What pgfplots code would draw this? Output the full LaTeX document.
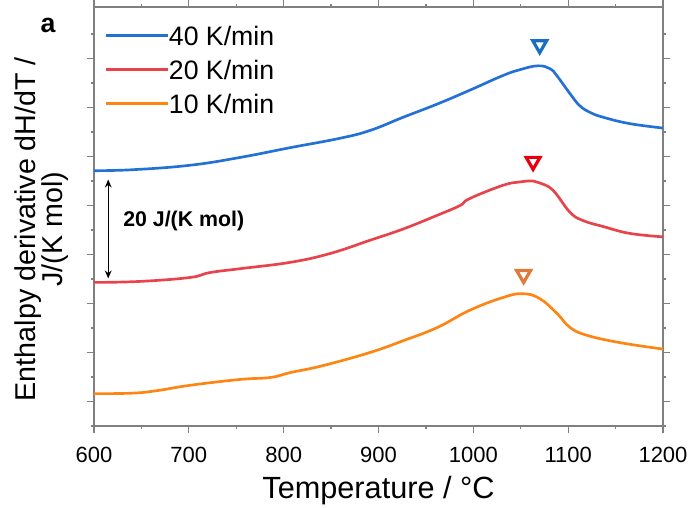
\documentclass[border=0pt]{standalone}
\usepackage{fontspec}
\setmainfont{Liberation Sans}
\usepackage{pgfplots}
\pgfplotsset{compat=1.18}
\usetikzlibrary{arrows.meta}

\definecolor{cblue}{RGB}{35,112,214}
\definecolor{cred}{RGB}{232,66,74}
\definecolor{corange}{RGB}{255,133,18}
\definecolor{mblue}{RGB}{26,110,192}
\definecolor{mred}{RGB}{230,0,15}
\definecolor{morange}{RGB}{224,122,58}
\definecolor{axgray}{RGB}{128,128,128}

\begin{document}
\begin{tikzpicture}
\path[use as bounding box] (-70.5pt,-60.75pt) rectangle (446.25pt,319.5pt);
\begin{axis}[
    scale only axis,
    width=426.75pt, height=314.25pt,
    xmin=600, xmax=1200,
    ymin=-5, ymax=80.5,
    xtick={600,700,...,1200},
    minor xtick={650,750,...,1150},
    ytick={0,10,...,70},
    minor ytick={-5,5,...,75},
    yticklabels={},
    tick align=outside,
    major tick length=5.25pt,
    minor tick length=2.6pt,
    axis line style={axgray, line width=0.9pt},
    every tick/.style={axgray, line width=0.9pt},
    /pgf/number format/assume math mode=true,
    /pgf/number format/set thousands separator={},
    xticklabel style={font=\fontsize{16.5}{16.5}\selectfont, anchor=base, inner sep=0pt, yshift=-22pt},
    xlabel={Temperature / °C},
    xlabel style={font=\fontsize{23}{23}\selectfont, at={(axis description cs:0.5,0)}, anchor=base, inner sep=0pt, yshift=-54pt},
    ylabel={Enthalpy derivative dH/dT /\\J/(K mol)},
    ylabel style={font=\fontsize{21.5}{20.5}\selectfont, align=center, at={(axis description cs:-0.044,0.47)}, anchor=south, rotate=0, inner sep=0pt},
    clip=false,
    legend cell align=left,
    legend style={at={(axis description cs:0,1)}, anchor=north west, xshift=8pt, yshift=-14.25pt,
        draw=none, fill=none, inner sep=0pt, row sep=11.2pt,
        font=\fontsize{20}{20}\selectfont,
        nodes={inner sep=0pt, text height=14.3pt, text depth=0pt},
        /tikz/every even column/.append style={column sep=5pt}},
    legend image code/.code={\draw[#1] (0pt,0pt) -- (46pt,0pt);},
]
\addplot[cblue, line width=2pt, smooth, tension=0.7] coordinates {
(600,47.1) (641,47.3) (701,48.2) (754,49.8) (807,51.8) (859,53.7) (891,55.3)
(926,58.0) (962,60.7) (996,63.5) (1031,66.5) (1049,67.7) (1068,68.5) (1081,67.9)
(1088,66.5) (1102,62.8) (1112,60.4) (1123,59.0) (1137,58.0) (1165,56.7) (1200,55.8)
};
\addlegendentry{40 K/min}
\addplot[cred, line width=2pt, smooth, tension=0.7] coordinates {
(600,24.3) (648,24.5) (701,25.3) (722,26.3) (754,27.1) (807,28.4) (849,30.2)
(891,32.9) (926,35.2) (962,38.0) (986,40.0) (996,41.4) (1031,44.1) (1049,44.8)
(1063,45.0) (1070,44.6) (1084,43.1) (1102,38.6) (1116,36.9) (1137,35.7) (1165,34.3) (1200,33.6)
};
\addlegendentry{20 K/min}
\addplot[corange, line width=2pt, smooth, tension=0.7] coordinates {
(600,1.6) (640,1.7) (666,2.2) (701,3.3) (754,4.5) (786,4.9) (807,5.9) (841,7.3)
(891,10.0) (926,12.4) (962,15.1) (996,18.6) (1031,21.2) (1052,22.0) (1070,21.0)
(1088,18.0) (1102,15.1) (1120,13.5) (1155,12.0) (1200,10.7)
};
\addlegendentry{10 K/min}
\addplot[only marks, mark=triangle, mblue, mark size=6pt, mark options={rotate=180, line width=2.4pt, fill=none}, forget plot] coordinates {(1070,72.8)};
\addplot[only marks, mark=triangle, mred, mark size=6pt, mark options={rotate=180, line width=2.4pt, fill=none}, forget plot] coordinates {(1063,49.0)};
\addplot[only marks, mark=triangle, morange, mark size=6pt, mark options={rotate=180, line width=2.4pt, fill=none}, forget plot] coordinates {(1053,25.9)};
\draw[line width=1pt, {Stealth[length=6pt,width=5pt]}-{Stealth[length=6pt,width=5pt]}] (axis cs:615,25.1) -- (axis cs:615,45.3);
\node[anchor=base west, inner sep=0pt, font=\bfseries\fontsize{16}{16}\selectfont] at (axis cs:630.6,35.7) {20 J/(K mol)};
\node[anchor=base, inner sep=0pt, font=\bfseries\fontsize{20}{20}\selectfont] at (axis description cs:0,1) [xshift=-34.5pt, yshift=-18.75pt] {a};
\end{axis}
\end{tikzpicture}
\end{document}
